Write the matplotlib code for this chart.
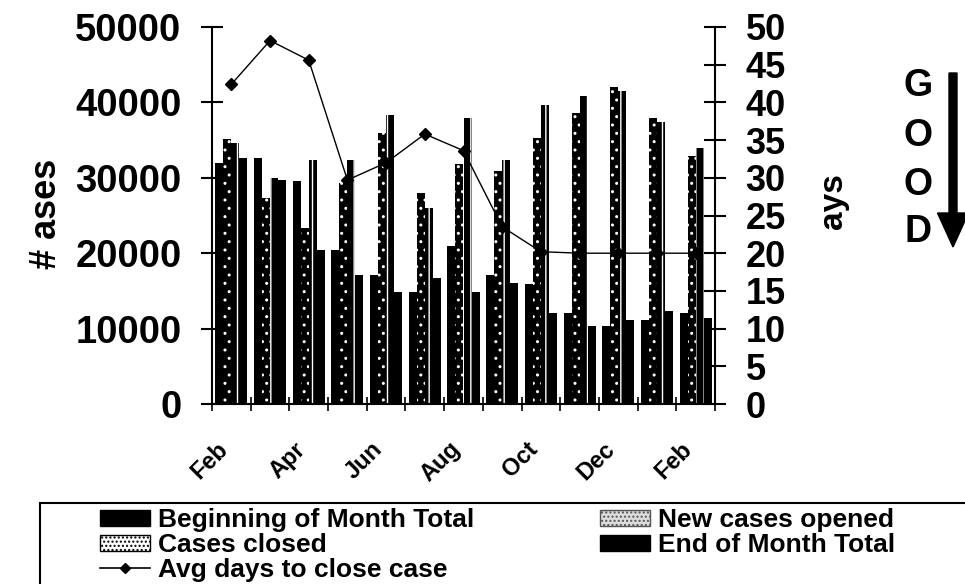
import matplotlib
matplotlib.use("Agg")
import matplotlib.pyplot as plt
from matplotlib.patches import Patch, Rectangle, FancyArrow
from matplotlib.lines import Line2D
from matplotlib.transforms import ScaledTranslation
import numpy as np

# monthly case counts
months = ["Feb", "Mar", "Apr", "May", "Jun", "Jul", "Aug",
          "Sep", "Oct", "Nov", "Dec", "Jan", "Feb"]
begin_total = [32000, 32600, 29600, 20400, 17100, 14900, 20900,
               17100, 15900, 12100, 10300, 11200, 12100]
new_opened = [35200, 27300, 23300, 29300, 35900, 28000, 31800,
              30900, 35300, 38600, 42100, 37900, 32900]
cases_closed = [34600, 30000, 32400, 32400, 38300, 26000, 37900,
                32400, 39700, 40800, 41500, 37400, 34000]
end_total = [32600, 29700, 20400, 17100, 14900, 16700, 14900,
             16100, 12100, 10300, 11200, 12400, 11400]
avg_days = [42.4, 48.2, 45.6, 29.7, 32.0, 35.8, 33.6,
            23.5, 20.2, 20, 20, 20, 20]

left_ticks = [0, 10000, 20000, 30000, 40000, 50000]
right_ticks = list(range(0, 55, 5))

plt.rcParams["font.family"] = ["Liberation Sans", "DejaVu Sans"]
plt.rcParams["font.weight"] = "bold"
plt.rcParams["hatch.linewidth"] = 1.0

W, H = 965, 584
fig = plt.figure(figsize=(W / 100, H / 100), dpi=100)


def px(x, y):
    # pixel position (from top-left) -> figure fraction
    return x / W, 1 - y / H


ax = fig.add_axes([212 / W, 1 - 404 / H, 503 / W, 377 / H])
x = np.arange(len(months))
w = 0.207

ax.bar(x - 1.5 * w, begin_total, w, color="black", linewidth=0)
ax.bar(x - 0.5 * w, new_opened, w, color="black", edgecolor="white",
       hatch="..", linewidth=0)
ax.bar(x + 0.5 * w, cases_closed, w, color="black", edgecolor="white",
       hatch="||", linewidth=0)
ax.bar(x + 1.5 * w, end_total, w, color="black", linewidth=0)

ax.set_xlim(-0.5, len(months) - 0.5)
ax.set_ylim(0, 50000)
ax.set_yticks(left_ticks)
ax.set_xticks(np.arange(-0.5, len(months), 1))
ax.set_xticklabels([])
ax.set_xticks(x[::2], [months[i] for i in x[::2]], minor=True)
ax.tick_params(axis="x", which="major", direction="inout", length=10, width=1.2)
ax.tick_params(axis="x", which="minor", length=0, pad=30, labelsize=17,
               labelrotation=45)
shift = ScaledTranslation(-0.07, 0, fig.dpi_scale_trans)
for lab in ax.get_xminorticklabels():
    lab.set_ha("right")
    lab.set_va("center")
    lab.set_rotation_mode("anchor")
    lab.set_transform(lab.get_transform() + shift)
ax.tick_params(axis="y", direction="inout", length=16, width=1.5,
               labelsize=27.5, pad=14)
for s in ["top", "right"]:
    ax.spines[s].set_visible(False)
for s in ["left", "bottom"]:
    ax.spines[s].set_linewidth(1.5)

ax2 = ax.twinx()
ax2.plot(x, avg_days, color="black", linewidth=1.0, marker="D",
         markersize=6)
ax2.set_ylim(0, 50)
ax2.set_yticks(right_ticks)
ax2.tick_params(axis="y", direction="inout", length=16, width=1.5,
                labelsize=26, pad=14)
for s in ["top", "left", "bottom"]:
    ax2.spines[s].set_visible(False)
ax2.spines["right"].set_linewidth(1.5)

# axis titles
fig.text(*px(47, 214), "# ases", rotation=90, ha="center", va="center",
         fontsize=26)
fig.text(*px(833, 201), "ays", rotation=90, ha="center", va="center",
         fontsize=24)

# GOOD with down arrow
for letter, yy in zip("GOOD", [86, 136, 185, 232]):
    fig.text(*px(918, yy), letter, ha="center", va="center", fontsize=27)
fig.add_artist(FancyArrow(9.53, (H - 73) / 100, 0, -(247 - 73) / 100,
                          width=0.08, head_width=0.31, head_length=0.34,
                          length_includes_head=True, color="black",
                          transform=fig.dpi_scale_trans))

# legend
handles = [
    Patch(facecolor="black", edgecolor="black"),
    Patch(facecolor="white", edgecolor="black", hatch="...."),
    Line2D([], [], color="black", linewidth=1.2, marker="D", markersize=5),
    Patch(facecolor="#dddddd", edgecolor="#555555", hatch="...."),
    Patch(facecolor="black", edgecolor="black"),
]
labels = ["Beginning of Month Total", "Cases closed",
          "Avg days to close case", "New cases opened",
          "End of Month Total"]
fig.legend(handles, labels, ncol=2, loc="upper left",
           bbox_to_anchor=px(100, 508), frameon=False, fontsize=19,
           handlelength=1.9, handleheight=0.55, handletextpad=0.3,
           columnspacing=4.75, labelspacing=0.04, borderpad=0,
           borderaxespad=0)
fig.add_artist(Rectangle((0.40, -0.2), 10, (H - 503) / 100 + 0.2,
                         fill=False, linewidth=1.5, edgecolor="black",
                         transform=fig.dpi_scale_trans))

fig.savefig("out.png", dpi=100)
